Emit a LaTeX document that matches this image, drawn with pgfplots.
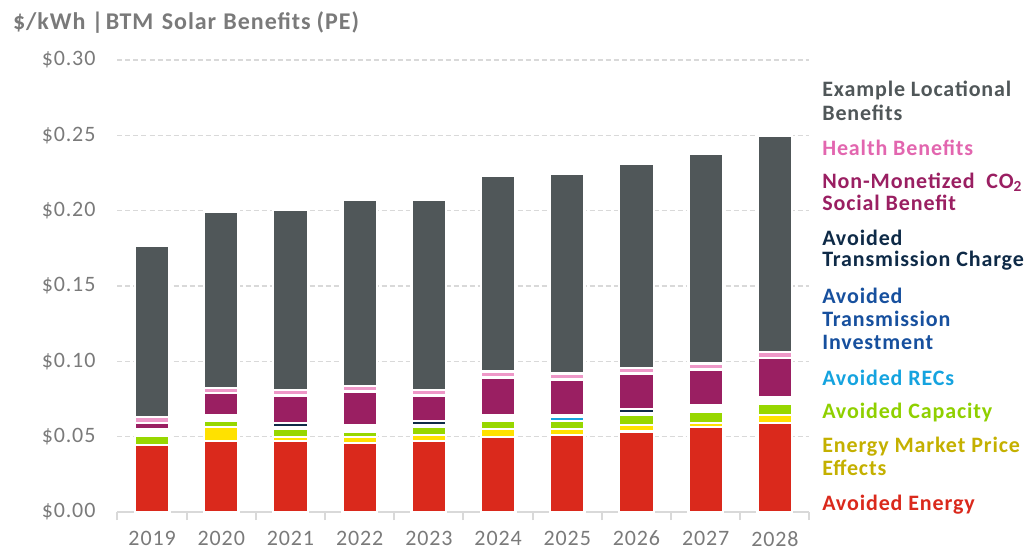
\documentclass[border=0pt]{standalone}
\usepackage{pgfplots}
\usepackage{pgfplotstable}
\pgfplotsset{compat=1.18}
\usepackage{fontspec}
\setmainfont{Carlito}[LetterSpace=4]
\definecolor{cL}{HTML}{505759}
\definecolor{cH}{HTML}{EE98C8}
\definecolor{cHt}{HTML}{E266AF}
\definecolor{cCO}{HTML}{9A1F62}
\definecolor{cTC}{HTML}{0E2A47}
\definecolor{cTI}{HTML}{17509E}
\definecolor{cR}{HTML}{15A3DF}
\definecolor{cC}{HTML}{97D700}
\definecolor{cCt}{HTML}{8FD000}
\definecolor{cM}{HTML}{FFE100}
\definecolor{cMt}{HTML}{C4B000}
\definecolor{cE}{HTML}{DA291C}
\definecolor{ctick}{HTML}{7A7A7A}
\definecolor{cgrid}{HTML}{D9D9D9}
\pgfplotstableread{
x E M C R S TI TC CO H L
0 0.0445 0.0000 0.0062 0 0.0041 0 0 0.0041 0.0040 0.1140
1 0.0470 0.0092 0.0040 0 0.0042 0 0 0.0144 0.0037 0.1170
2 0.0470 0.0028 0.0053 0 0.0013 0 0.0028 0.0181 0.0039 0.1196
3 0.0457 0.0040 0.0038 0 0.0040 0 0 0.0225 0.0038 0.1236
4 0.0470 0.0040 0.0052 0 0.0015 0 0.0028 0.0168 0.0039 0.1262
5 0.0497 0.0054 0.0051 0 0.0042 0 0 0.0249 0.0040 0.1298
6 0.0509 0.0042 0.0052 0.0028 0.0013 0 0 0.0235 0.0041 0.1325
7 0.0535 0.0042 0.0065 0 0.0013 0 0.0028 0.0236 0.0039 0.1355
8 0.0563 0.0028 0.0077 0 0.0040 0 0 0.0238 0.0040 0.1391
9 0.0590 0.0053 0.0078 0 0.0042 0 0 0.0261 0.0040 0.1433
}\data
\begin{document}
\begin{tikzpicture}
\useasboundingbox (-58.75pt,-21pt) rectangle (457.25pt,256pt);
\begin{axis}[
  scale only axis,
  width=346pt, height=226pt,
  xmin=-0.5, xmax=9.5, ymin=0, ymax=0.30,
  ybar stacked, bar width=0.5,
  axis x line*=bottom, axis y line*=left,
  x axis line style={draw=cgrid, line width=1pt},
  y axis line style={draw=none},
  xtick={0,1,2,3,4,5,6,7,8,9},
  xticklabels={2019,2020,2021,2022,2023,2024,2025,2026,2027,2028},
  minor xtick={-0.5,0.5,1.5,2.5,3.5,4.5,5.5,6.5,7.5,8.5,9.5},
  tick align=outside,
  major tick length=0pt, minor tick length=4pt,
  minor x tick style={draw=cgrid, line width=1pt},
  major tick style={draw=none},
  ytick={0,0.05,0.10,0.15,0.20,0.25,0.30},
  yticklabels={\$0.00,\$0.05,\$0.10,\$0.15,\$0.20,\$0.25,\$0.30},
  ymajorgrids,
  grid style={draw=cgrid, line width=0.7pt, dash pattern=on 2.5pt off 1.5pt},
  tick label style={font=\fontsize{11}{13}\selectfont, text=ctick},
  yticklabel style={xshift=-7.5pt},
  xticklabel style={yshift=-6pt},
  every axis plot/.append style={draw=white, line width=1.15pt},
]
\addplot[fill=cE] table[x=x,y=E]{\data};
\addplot[fill=cM] table[x=x,y=M]{\data};
\addplot[fill=cC] table[x=x,y=C]{\data};
\addplot[fill=cR] table[x=x,y=R]{\data};
\addplot[fill=white] table[x=x,y=S]{\data};
\addplot[fill=cTI] table[x=x,y=TI]{\data};
\addplot[fill=cTC] table[x=x,y=TC]{\data};
\addplot[fill=cCO] table[x=x,y=CO]{\data};
\addplot[fill=cH] table[x=x,y=H]{\data};
\addplot[fill=cL] table[x=x,y=L]{\data};
\end{axis}
\node[anchor=base west, inner sep=0pt, text=ctick, font=\bfseries\fontsize{12}{14}\selectfont] at (-52.4pt,241.35pt) {\$/kWh~|\hspace{0.1em}BTM\hspace{0.35em}Solar\hspace{0.3em}Benefits\hspace{0.25em}(PE)};
\begin{scope}[every node/.style={anchor=base west, inner sep=0pt, font=\bfseries\fontsize{11}{13}\selectfont}]
\node[text=cL] at (352.2pt,207.65pt) {Example Locational};
\node[text=cL] at (352.2pt,196pt) {Benefits};
\node[text=cHt] at (352.2pt,178.5pt) {Health Benefits};
\node[text=cCO] at (352.2pt,162pt) {Non-Monetized~ CO\textsubscript{2}};
\node[text=cCO] at (352.2pt,151pt) {Social Benefit};
\node[text=cTC] at (352.2pt,133.5pt) {Avoided};
\node[text=cTC] at (352.2pt,122.65pt) {Transmission Charge};
\node[text=cTI] at (352.2pt,104.5pt) {Avoided};
\node[text=cTI] at (352.2pt,92.65pt) {Transmission};
\node[text=cTI] at (352.2pt,81.5pt) {Investment};
\node[text=cR] at (352.2pt,63.5pt) {Avoided RECs};
\node[text=cCt] at (352.2pt,47pt) {Avoided Capacity};
\node[text=cMt] at (352.2pt,30pt) {Energy Market Price};
\node[text=cMt] at (352.2pt,18.5pt) {Effects};
\node[text=cE] at (352.2pt,1pt) {Avoided Energy};
\end{scope}
\end{tikzpicture}
\end{document}
